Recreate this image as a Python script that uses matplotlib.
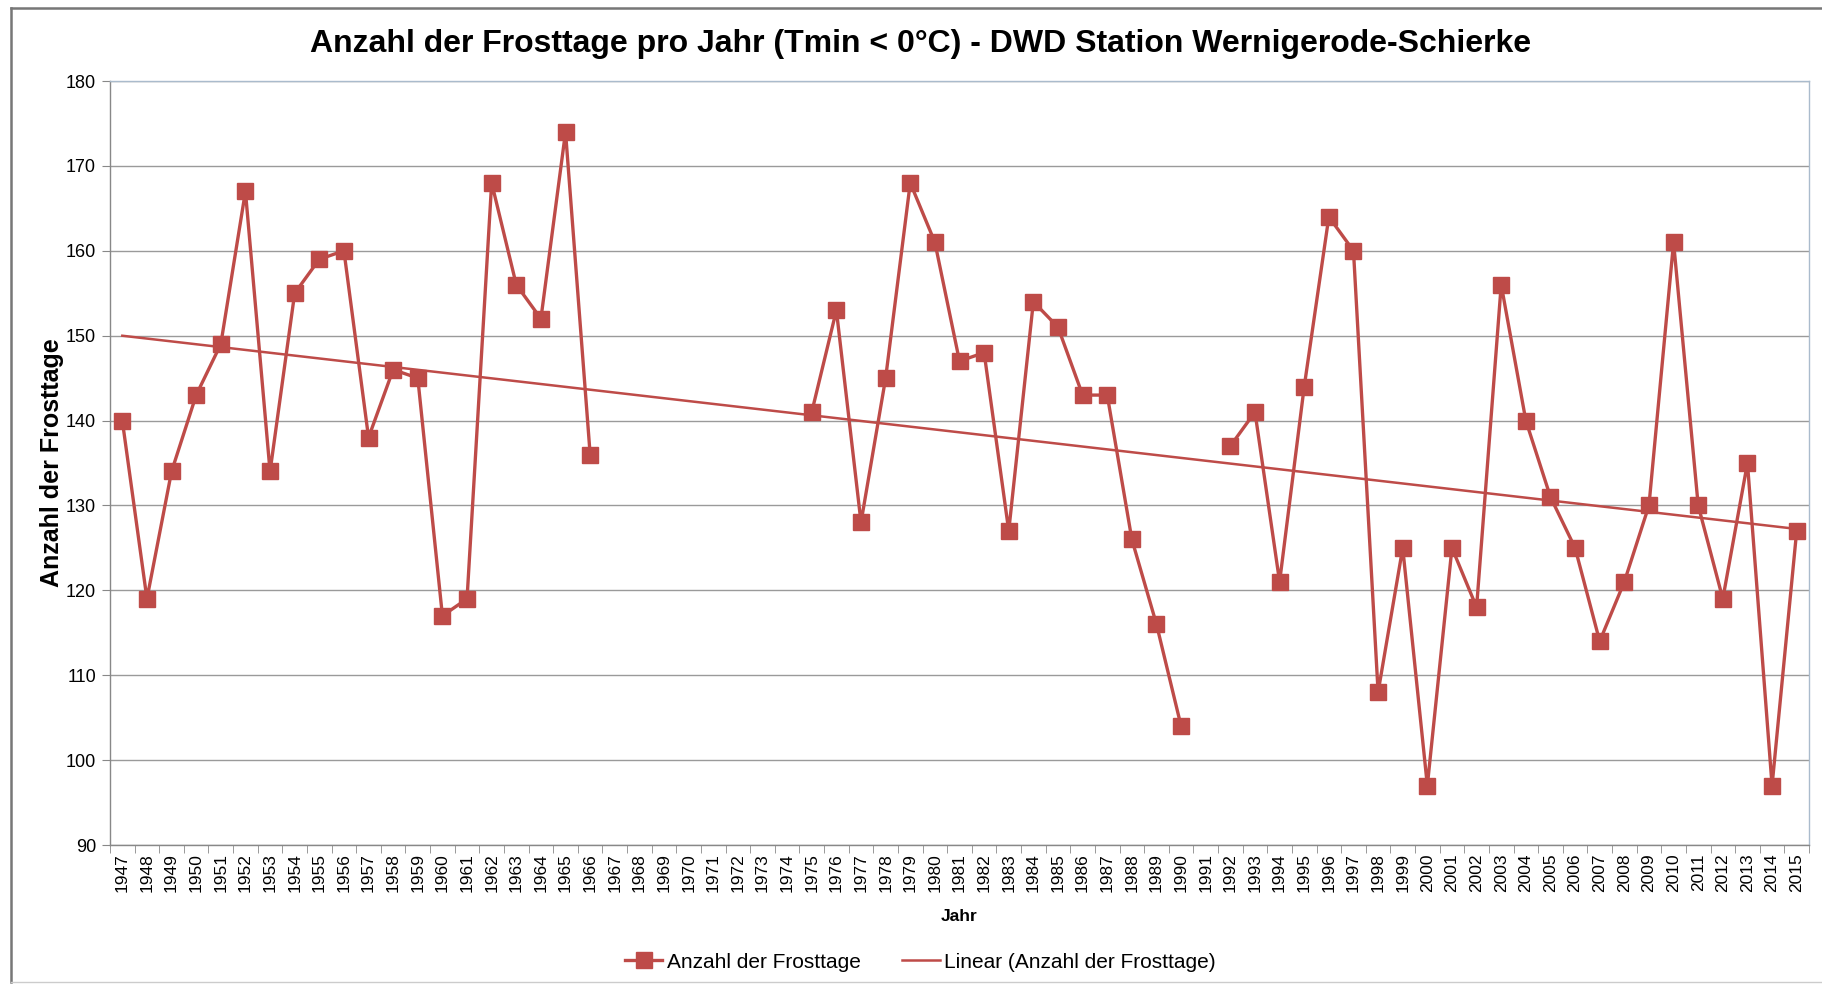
import numpy as np
import matplotlib
matplotlib.use("Agg")
import matplotlib.pyplot as plt
from matplotlib.lines import Line2D

years = list(range(1947, 2016))
frosttage = [140, 119, 134, 143, 149, 167, 134, 155, 159, 160,
             138, 146, 145, 117, 119, 168, 156, 152, 174, 136,
             np.nan, np.nan, np.nan, np.nan, np.nan, np.nan, np.nan, np.nan,
             141, 153, 128, 145, 168, 161, 147, 148, 127, 154,
             151, 143, 143, 126, 116, 104, np.nan, 137, 141, 121,
             144, 164, 160, 108, 125, 97, 125, 118, 156, 140,
             131, 125, 114, 121, 130, 161, 130, 119, 135, 97, 127]
year_labels = [str(y) for y in years]
y_ticks = [90, 100, 110, 120, 130, 140, 150, 160, 170, 180]

title = "Anzahl der Frosttage pro Jahr (Tmin < 0°C) - DWD Station Wernigerode-Schierke"
ylabel = "Anzahl der Frosttage"
xlabel = "Jahr"
series_name = "Anzahl der Frosttage"
trend_name = "Linear (Anzahl der Frosttage)"

plt.rcParams['font.family'] = ['Liberation Sans', 'DejaVu Sans']
red = "#BE4B48"

fig = plt.figure(figsize=(18.22, 9.84), dpi=100)
ax = fig.add_axes([110/1822, 1-845/984, (1809-110)/1822, (845-81)/984])

x = np.arange(len(years))
vals = np.array(frosttage, dtype=float)
ax.plot(x, vals, color=red, lw=2.4, marker='s', ms=11, mfc=red, mec=red,
        label=series_name, zorder=3)

mask = ~np.isnan(vals)
k, d = np.polyfit(x[mask] + 1, vals[mask], 1)
ax.plot(x, k * (x + 1) + d, color=red, lw=1.8, label=trend_name, zorder=2)

ax.set_xlim(-0.5, len(years) - 0.5)
ax.set_ylim(90, 180)
ax.set_yticks(y_ticks)
ax.set_yticklabels([str(v) for v in y_ticks], fontsize=13)
ax.set_xticks(x)
ax.set_xticklabels(year_labels, rotation=90, fontsize=12.5)
ax.set_xticks(np.arange(len(years) + 1) - 0.5, minor=True)
ax.tick_params(axis='x', which='major', length=0, pad=6)
ax.tick_params(axis='x', which='minor', length=6, color='#888888')
ax.tick_params(axis='y', length=6, color='#888888', pad=4)
ax.grid(axis='y', color='#9a9a9a', lw=1.0)
ax.set_axisbelow(True)
for s in ['top', 'right']:
    ax.spines[s].set_color('#aabbcc')
    ax.spines[s].set_linewidth(1.0)
for s in ['left', 'bottom']:
    ax.spines[s].set_color('#888888')
    ax.spines[s].set_linewidth(1.0)

ax.set_ylabel(ylabel, fontsize=18, fontweight='bold', labelpad=1)
ax.set_xlabel(xlabel, fontsize=12.5, fontweight='bold', labelpad=12)
fig.text(0.505, 1-44/984, title, ha='center', va='center', fontsize=23, fontweight='bold')

leg = fig.legend(loc='center', bbox_to_anchor=(0.505, 1-962/984), ncol=2, frameon=False,
                 fontsize=15, handlelength=1.8, columnspacing=2.0, handletextpad=0.2)

# chart area border (top, left, bottom; right edge cut off)
fx = lambda px: px / 1822
fy = lambda py: 1 - py / 984
fig.add_artist(Line2D([fx(11), 1.0], [fy(8), fy(8)], transform=fig.transFigure, color='#777777', lw=1.8))
fig.add_artist(Line2D([fx(11), fx(11)], [fy(8), fy(982)], transform=fig.transFigure, color='#777777', lw=1.8))
fig.add_artist(Line2D([fx(11), 1.0], [fy(982), fy(982)], transform=fig.transFigure, color='#cccccc', lw=1.0))

fig.savefig("out.png", dpi=100)
